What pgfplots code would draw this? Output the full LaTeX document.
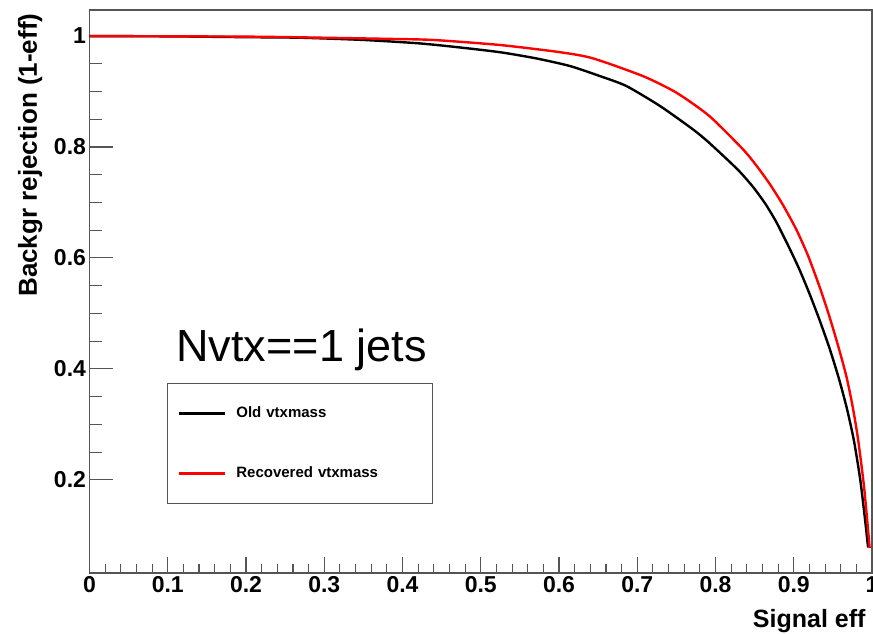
\documentclass[border=0pt]{standalone}
\usepackage{fontspec}
\setmainfont{Liberation Sans}
\usepackage{pgfplots}
\pgfplotsset{compat=1.18}
\definecolor{framegray}{RGB}{85,85,85}
\begin{document}
\begin{tikzpicture}
\begin{axis}[
  at={(0,0)}, anchor=south west,
  scale only axis, width=782.5pt, height=563pt,
  xmin=0, xmax=1, ymin=0.032, ymax=1.047,
  xtick={0,0.1,0.2,0.3,0.4,0.5,0.6,0.7,0.8,0.9,1},
  ytick={0.2,0.4,0.6,0.8,1},
  minor x tick num=4, minor y tick num=3,
  tick pos=left, tick align=inside,
  xtick style={/pgfplots/major tick length=16pt,/pgfplots/minor tick length=9pt},
  ytick style={/pgfplots/major tick length=24pt,/pgfplots/minor tick length=13pt},
  every tick/.style={draw=framegray, line width=1.1pt},
  axis line style={draw=framegray, line width=1.4pt},
  /pgf/number format/assume math mode=true,
  /pgf/number format/fixed,
  tick label style={font=\fontsize{23}{23}\selectfont\bfseries},
  xlabel={Signal eff},
  ylabel={Backgr rejection (1-eff)},
  every axis x label/.style={at={([xshift=-3pt,yshift=-54pt]axis description cs:1,0)}, anchor=base east, font=\fontsize{25}{25}\selectfont\bfseries},
  every axis y label/.style={at={([xshift=-52.5pt]axis description cs:0,1)}, anchor=base east, rotate=90, font=\fontsize{26}{26}\selectfont\bfseries},
  legend style={at={(axis description cs:0.099,0.3375)}, anchor=north west,
    draw=framegray, line width=0.8pt, inner xsep=10pt, inner ysep=23pt,
    row sep=46pt, column sep=10pt,
    font=\fontsize{15}{15}\selectfont\bfseries,
    nodes={inner sep=0pt, text height=11pt, text depth=3pt, text width=186pt, align=left}},
  legend cell align=left,
  legend image code/.code={\draw[#1, line width=3pt] (0pt,0pt) -- (46pt,0pt);},
]
\addplot[black, line width=2.4pt, line join=round, smooth, tension=0.4] coordinates {
(0,1.0) (0.1,0.9995) (0.2,0.998) (0.27,0.997) (0.35,0.993) (0.42,0.987)
(0.47,0.980) (0.524,0.971) (0.57,0.960) (0.614,0.946) (0.652,0.928)
(0.686,0.910) (0.729,0.874) (0.771,0.832) (0.790,0.810) (0.810,0.784)
(0.830,0.757) (0.848,0.728) (0.864,0.697) (0.878,0.664) (0.893,0.622)
(0.907,0.580) (0.920,0.536) (0.933,0.488) (0.946,0.436) (0.958,0.381)
(0.968,0.328) (0.977,0.270) (0.985,0.200) (0.991,0.130) (0.995,0.078)
};
\addlegendentry{Old vtxmass}
\addplot[red, line width=2.4pt, line join=round, smooth, tension=0.4] coordinates {
(0,1.0) (0.2,0.999) (0.3,0.997) (0.38,0.995) (0.439,0.993) (0.524,0.984)
(0.601,0.971) (0.643,0.960) (0.707,0.928) (0.750,0.898) (0.792,0.856)
(0.835,0.796) (0.852,0.767) (0.869,0.734) (0.886,0.696) (0.903,0.652)
(0.918,0.605) (0.933,0.548) (0.945,0.497) (0.956,0.445) (0.967,0.388)
(0.975,0.334) (0.982,0.275) (0.990,0.185) (0.997,0.077)
};
\addlegendentry{Recovered vtxmass}
\node[anchor=base west, font=\fontsize{45}{45}\selectfont] at (axis cs:0.1066,0.413) {Nvtx==1 jets};
\end{axis}
\pgfresetboundingbox
\path (-89.5pt,-60pt) rectangle (783.5pt,573pt);
\end{tikzpicture}
\end{document}
